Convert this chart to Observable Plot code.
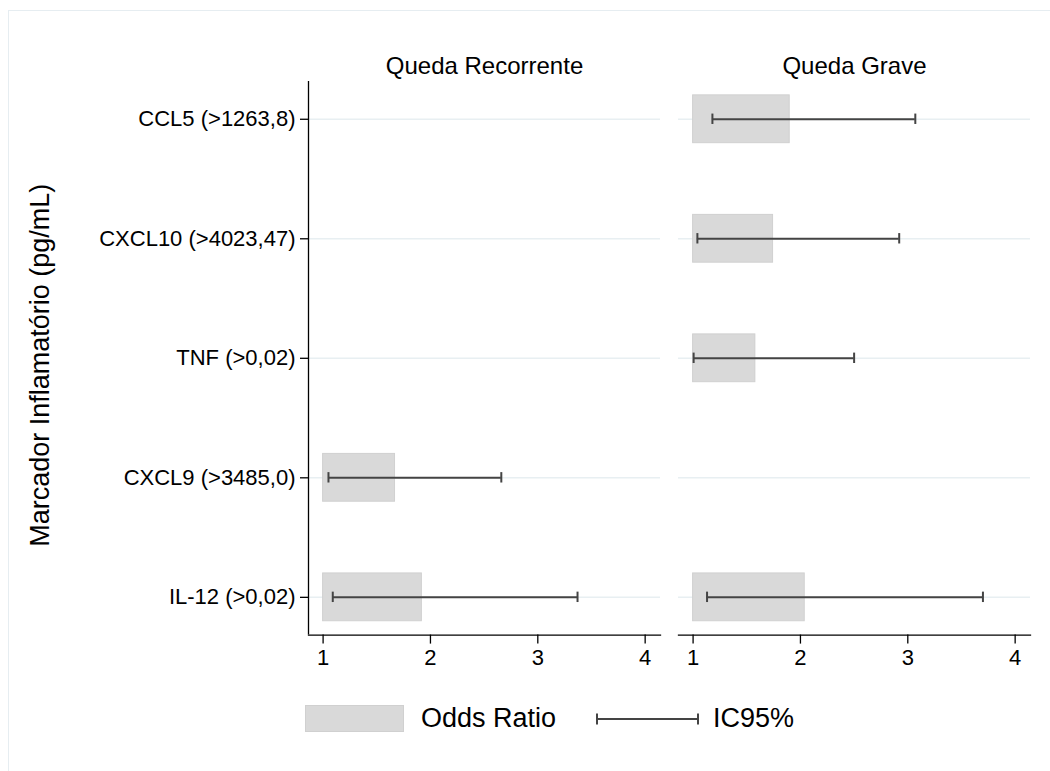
<!DOCTYPE html>
<html>
<head>
<meta charset="utf-8">
<script src="https://cdn.jsdelivr.net/npm/d3@7"></script>
<script src="https://cdn.jsdelivr.net/npm/@observablehq/plot@0.6"></script>
<style>
  html, body { margin: 0; padding: 0; background: #fff; }
  body { width: 1050px; height: 771px; overflow: hidden; position: relative;
         font-family: "Liberation Sans", Arial, Helvetica, sans-serif; }
  #outer { position: absolute; left: 8px; top: 10px; width: 1200px; height: 900px;
           border-left: 1.5px solid #e6edf1; border-top: 1.5px solid #e6edf1; pointer-events: none; }
  #chart svg { display: block; }
  #legend { display: flex; align-items: center; height: 27px; margin-top: 15px; padding-left: 305px; }
  #legend .sw { width: 99px; height: 27px; background: #d9d9d9; box-sizing: border-box; border: 1px solid #d0d0d0; }
  #legend .lab { font-size: 27px; color: #000; line-height: 27px; }
</style>
</head>
<body>
<div id="chart"></div>
<div id="legend">
  <div class="sw"></div>
  <span class="lab" style="margin-left:17px">Odds Ratio</span>
  <svg width="103" height="14" style="margin-left:40px">
    <line x1="1" y1="7" x2="102" y2="7" stroke="#444" stroke-width="2"/>
    <line x1="1" y1="1.5" x2="1" y2="12.5" stroke="#444" stroke-width="2"/>
    <line x1="102" y1="1.5" x2="102" y2="12.5" stroke="#444" stroke-width="2"/>
  </svg>
  <span class="lab" style="margin-left:14px">IC95%</span>
</div>
<div id="outer"></div>
<script>
// ---- data ----
const panels = ["Queda Recorrente", "Queda Grave"];
const markers = ["CCL5 (>1263,8)", "CXCL10 (>4023,47)", "TNF (>0,02)", "CXCL9 (>3485,0)", "IL-12 (>0,02)"];
const rowPanel = ["Queda Recorrente", "Queda Recorrente", "Queda Grave", "Queda Grave", "Queda Grave", "Queda Grave"];
const rowMarker = ["CXCL9 (>3485,0)", "IL-12 (>0,02)", "CCL5 (>1263,8)", "CXCL10 (>4023,47)", "TNF (>0,02)", "IL-12 (>0,02)"];
const oddsRatio = [1.67, 1.92, 1.90, 1.745, 1.58, 2.04];
const ciLow = [1.05, 1.09, 1.18, 1.04, 1.005, 1.13];
const ciHigh = [2.66, 3.37, 3.07, 2.92, 2.50, 3.70];
const xTicks = [1, 2, 3, 4];
const xDomain = [0.864, 4.143];
const nullOR = 1;
const yTitle = "Marcador Inflamatório (pg/mL)";

const rows = rowPanel.map((p, i) => ({panel: p, marker: rowMarker[i], or: oddsRatio[i], lo: ciLow[i], hi: ciHigh[i]}));

const ciColor = "#444444";
const capInset = 18.7;

const chart = Plot.plot({
  width: 1050,
  height: 690,
  marginTop: 81,
  marginBottom: 55.4,
  marginLeft: 308,
  marginRight: 20,
  style: {fontFamily: '"Liberation Sans", Arial, Helvetica, sans-serif', color: "#000", background: "transparent"},
  fx: {domain: panels, paddingInner: 0.0486, paddingOuter: 0, round: false, axis: null},
  x: {domain: xDomain, label: null},
  y: {domain: markers, paddingInner: 0.6, paddingOuter: 0.116, round: false, label: null},
  marks: [
    Plot.ruleY(markers, {y: d => d, stroke: "#e8eff2", strokeWidth: 1.5}),
    Plot.barX(rows, {fx: "panel", y: "marker", x1: () => nullOR, x2: "or", fill: "#d9d9d9", stroke: "#d0d0d0", strokeWidth: 1}),
    Plot.ruleY(rows, {fx: "panel", y: "marker", x1: "lo", x2: "hi", stroke: ciColor, strokeWidth: 2}),
    Plot.tickX(rows, {fx: "panel", y: "marker", x: "lo", stroke: ciColor, strokeWidth: 2, insetTop: capInset, insetBottom: capInset}),
    Plot.tickX(rows, {fx: "panel", y: "marker", x: "hi", stroke: ciColor, strokeWidth: 2, insetTop: capInset, insetBottom: capInset}),
    Plot.frame({anchor: "bottom", stroke: "#000", strokeWidth: 1.3}),
    Plot.ruleX([panels[0]], {fx: d => d, x: () => xDomain[0], stroke: "#000", strokeWidth: 1.3}),
    Plot.axisY({anchor: "left", tickSize: 8, tickPadding: 5, fontSize: 22, label: null, stroke: "#000", strokeWidth: 1.3, fill: "#000"}),
    Plot.axisX({ticks: xTicks, tickFormat: d => String(d), tickSize: 9, tickPadding: 5, fontSize: 22, label: null, stroke: "#000", strokeWidth: 1.3, fill: "#000"}),
    Plot.text(panels, {fx: d => d, text: d => d, frameAnchor: "top", lineAnchor: "bottom", dy: -8, fontSize: 24, fill: "#000"}),
    Plot.text([panels[0]], {fx: d => d, text: () => yTitle, frameAnchor: "left", rotate: -90, lineAnchor: "top", textAnchor: "middle", dx: -279, dy: 7, fontSize: 27, fill: "#000"})
  ]
});
document.getElementById("chart").appendChild(chart);
</script>
</body>
</html>
